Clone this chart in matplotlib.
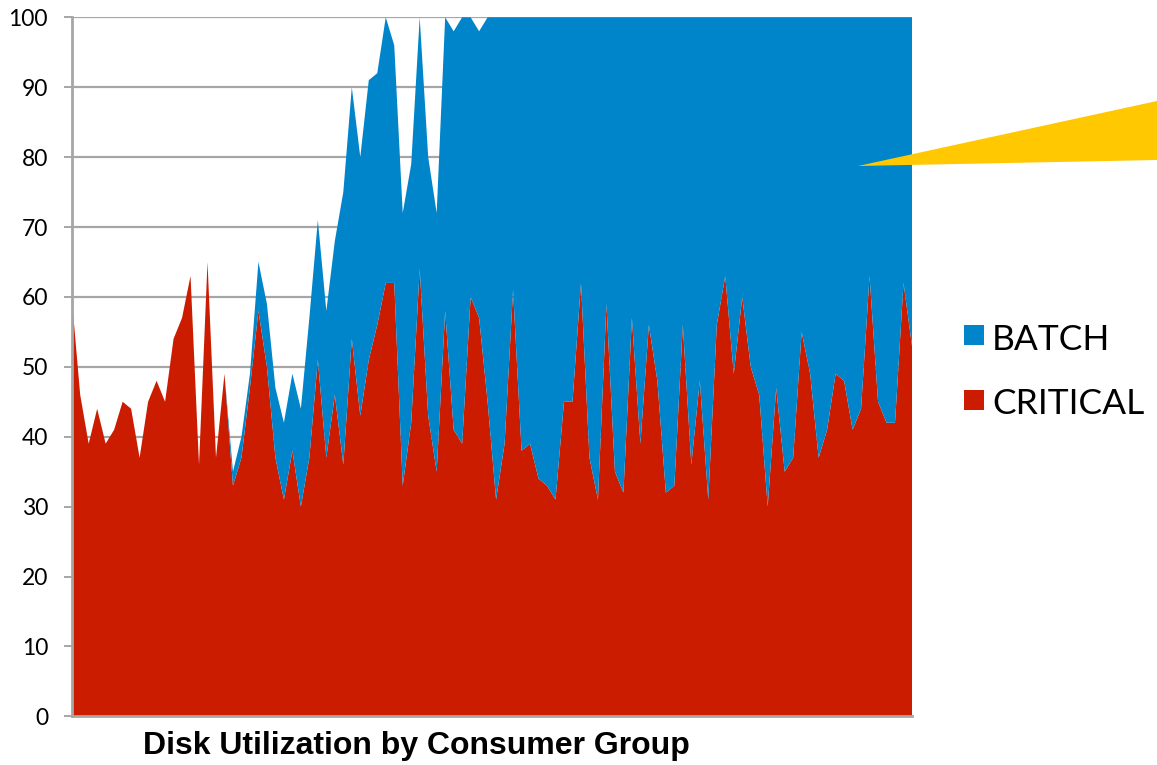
import matplotlib
matplotlib.use("Agg")
import matplotlib.pyplot as plt
from matplotlib.patches import Rectangle, Polygon
import numpy as np

# Disk utilization (%) per sample, stacked by consumer group
critical = [60, 46, 39, 44, 39, 41, 45, 44, 37, 45,
            48, 45, 54, 57, 63, 36, 65, 37, 49, 33,
            37, 47, 58, 50, 37, 31, 38, 30, 37, 51,
            37, 46, 36, 54, 43, 51, 56, 62, 62, 33,
            42, 64, 43, 35, 58, 41, 39, 60, 57, 45,
            31, 39, 61, 38, 39, 34, 33, 31, 45, 45,
            62, 37, 31, 59, 35, 32, 57, 39, 56, 48,
            32, 33, 56, 36, 48, 31, 56, 63, 49, 60,
            50, 46, 30, 47, 35, 37, 55, 49, 37, 41,
            49, 48, 41, 44, 63, 45, 42, 42, 62, 53]

batch = [0, 0, 0, 0, 0, 0, 0, 0, 0, 0,
         0, 0, 0, 0, 0, 0, 0, 0, 0, 2,
         3, 2, 7, 9, 10, 11, 11, 14, 20, 20,
         21, 22, 39, 36, 37, 40, 36, 38, 34, 39,
         37, 36, 37, 37, 42, 57, 61, 40, 41, 55,
         69, 61, 39, 62, 61, 66, 67, 69, 55, 55,
         38, 63, 69, 41, 65, 68, 43, 61, 44, 52,
         68, 67, 44, 64, 52, 69, 44, 37, 51, 40,
         50, 54, 70, 53, 65, 63, 45, 51, 63, 59,
         51, 52, 59, 56, 37, 55, 58, 58, 38, 47]

series_labels = ["CRITICAL", "BATCH"]
y_ticks = [0, 10, 20, 30, 40, 50, 60, 70, 80, 90, 100]
title = "Disk Utilization by Consumer Group"

RED = "#CC1C00"
BLUE = "#0084CA"
GOLD = "#FFC800"
GRID = "#A6A6A6"

W, H = 1157, 765
fig = plt.figure(figsize=(W / 100, H / 100), dpi=100)
fig.patch.set_facecolor("white")

def fx(px):
    return px / W

def fy(py):
    return 1 - py / H

left, right, top, bottom = 71.7, 912.0, 17.3, 716.3
ax = fig.add_axes([fx(left), fy(bottom), fx(right - left), (bottom - top) / H])

x = np.arange(len(critical))
ax.stackplot(x, critical, batch, colors=[RED, BLUE], linewidth=0, zorder=2)

ax.set_xlim(0, len(critical) - 1)
ax.set_ylim(0, 100)
ax.set_yticks(y_ticks)
ax.set_yticklabels([str(t) for t in y_ticks], fontfamily="Lato", fontsize=16.5)
ax.set_xticks([])

ax.set_axisbelow(True)
ax.yaxis.grid(True, color=GRID, linewidth=1.6)
ax.tick_params(axis="y", length=6, width=1.4, color=GRID, pad=11)

for side in ("top", "right"):
    ax.spines[side].set_visible(False)
ax.spines["left"].set_color(GRID)
ax.spines["left"].set_linewidth(2.0)
ax.spines["left"].set_zorder(3)
ax.spines["bottom"].set_color(GRID)
ax.spines["bottom"].set_linewidth(2.0)
ax.spines["bottom"].set_zorder(3)

# Title under the plot
fig.text(fx(416), fy(746), title, ha="center", va="center",
         fontfamily="Liberation Sans", fontweight="bold", fontsize=23)

# Legend: BATCH above CRITICAL
legend_rows = [("BATCH", BLUE, 335.5), ("CRITICAL", RED, 400.0)]
sq = 20
for label, color, cy in legend_rows:
    fig.patches.append(Rectangle((fx(964), fy(cy + sq / 2)), sq / W, sq / H,
                                 transform=fig.transFigure, facecolor=color,
                                 edgecolor="none"))
    fig.text(fx(992), fy(cy + 4), label, ha="left", va="center",
             fontfamily="Lato", fontsize=25.5, color="black")

# Callout pointer
fig.patches.append(Polygon([(fx(858), fy(166)), (fx(1157), fy(101)), (fx(1157), fy(160))],
                           closed=True, transform=fig.transFigure,
                           facecolor=GOLD, edgecolor="none", zorder=5))

fig.savefig("out.png", dpi=100)
